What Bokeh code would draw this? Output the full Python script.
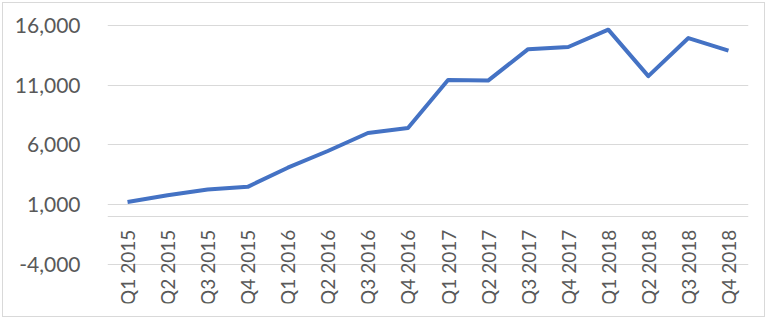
import math
from bokeh.plotting import figure
from bokeh.models import Range1d, FactorRange, FixedTicker, NumeralTickFormatter
from bokeh.embed import file_html
from bokeh.resources import INLINE

quarters = ["Q1 2015", "Q2 2015", "Q3 2015", "Q4 2015",
            "Q1 2016", "Q2 2016", "Q3 2016", "Q4 2016",
            "Q1 2017", "Q2 2017", "Q3 2017", "Q4 2017",
            "Q1 2018", "Q2 2018", "Q3 2018", "Q4 2018"]
values = [1230, 1800, 2280, 2500,
          4100, 5500, 7000, 7420,
          11440, 11390, 14020, 14200,
          15650, 11760, 14950, 13900]
y_ticks = [-4000, 1000, 6000, 11000, 16000]

FONT = "Lato"
GREY = "#595959"

p = figure(width=763, height=315,
           x_range=FactorRange(*quarters, range_padding=0),
           y_range=Range1d(-7264, 17004),
           output_backend="svg", toolbar_location=None,
           min_border_left=104, min_border_right=18,
           min_border_top=10, min_border_bottom=15)
p.styles = {"border": "1px solid #d9d9d9", "margin-left": "2px", "margin-top": "2px"}
p.outline_line_color = None
p.background_fill_color = "white"
p.border_fill_color = "white"

p.line(quarters, values, line_color="#4472C4", line_width=4, line_join="round")

# y axis
p.yaxis.ticker = FixedTicker(ticks=y_ticks)
p.yaxis.formatter = NumeralTickFormatter(format="0,0")
p.yaxis.axis_line_color = None
p.yaxis.major_tick_line_color = None
p.yaxis.minor_tick_line_color = None
p.yaxis.major_tick_out = 0
p.yaxis.major_label_standoff = 27
p.yaxis.major_label_text_font = FONT
p.yaxis.major_label_text_font_size = "21px"
p.yaxis.major_label_text_color = GREY

p.ygrid.ticker = FixedTicker(ticks=y_ticks)
p.ygrid.grid_line_color = "#d9d9d9"
p.ygrid.grid_line_width = 1
p.xgrid.grid_line_color = None

# x axis crossing at zero
p.xaxis.fixed_location = 0
p.xaxis.axis_line_color = "#d9d9d9"
p.xaxis.major_tick_line_color = None
p.xaxis.minor_tick_line_color = None
p.xaxis.major_tick_out = 0
p.xaxis.major_label_standoff = 13
p.xaxis.major_label_orientation = math.pi / 2
p.xaxis.major_label_text_font = FONT
p.xaxis.major_label_text_font_size = "19px"
p.xaxis.major_label_text_color = GREY

open("out.html", "w").write(file_html(p, INLINE))
